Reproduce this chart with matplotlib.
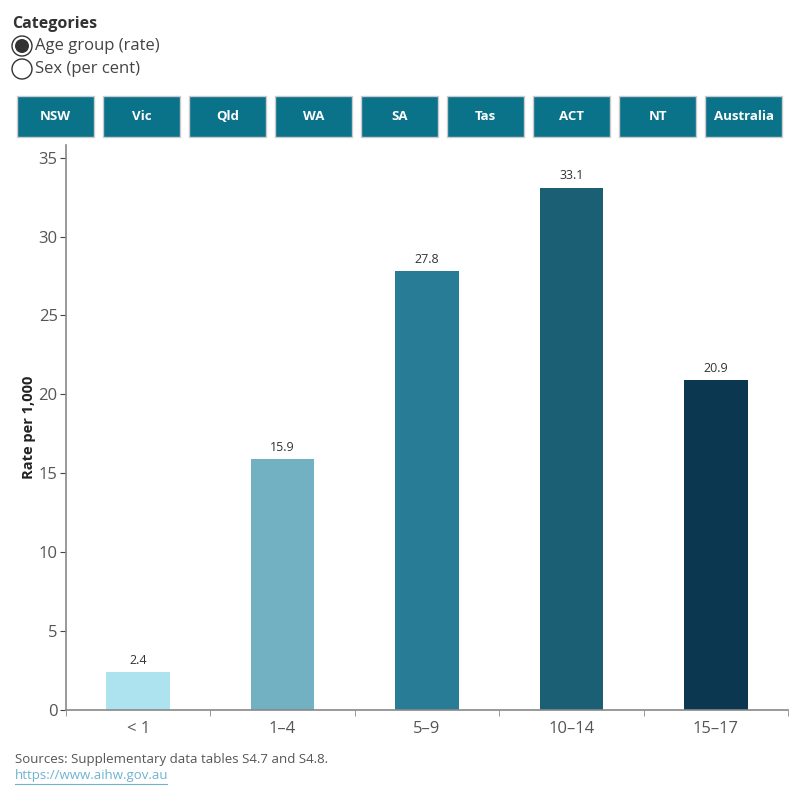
import matplotlib.pyplot as plt
from matplotlib.patches import Rectangle, Circle

plt.rcParams['font.family'] = ['Open Sans', 'DejaVu Sans']

age_groups = ["< 1", "1\u20134", "5\u20139", "10\u201314", "15\u201317"]
rates = [2.4, 15.9, 27.8, 33.1, 20.9]
bar_colors = ["#ade3ee", "#71b1c2", "#297c95", "#1b5f75", "#0b3750"]
states = ["NSW", "Vic", "Qld", "WA", "SA", "Tas", "ACT", "NT", "Australia"]
options = ["Age group (rate)", "Sex (per cent)"]

fig = plt.figure(figsize=(8, 8), dpi=100)

# chart area
ax = fig.add_axes([0.0825, 0.1125, 0.9025, 0.70625])
x = list(range(len(age_groups)))
ax.bar(x, rates, width=0.44, color=bar_colors)
for xi, v in zip(x, rates):
    ax.text(xi, v + 0.35, f"{v}", ha="center", va="bottom", fontsize=9, color="#333333")

ax.set_xlim(-0.5, len(age_groups) - 0.5)
ax.set_ylim(0, 35.8)
ax.set_yticks([0, 5, 10, 15, 20, 25, 30, 35])
ax.set_xticks(x)
ax.set_xticklabels(age_groups)
ax.set_xticks([i - 0.5 for i in range(len(age_groups) + 1)], minor=True)
ax.tick_params(axis="x", which="major", length=0, labelsize=12, labelcolor="#555555", pad=8)
ax.tick_params(axis="x", which="minor", length=4, color="#888888", direction="out")
ax.tick_params(axis="y", length=4, color="#444444", labelsize=12, labelcolor="#555555", pad=2)
for s in ["top", "right"]:
    ax.spines[s].set_visible(False)
for s in ["left", "bottom"]:
    ax.spines[s].set_color("#888888")
    ax.spines[s].set_linewidth(1.2)
ax.set_ylabel("Rate per 1,000", fontsize=10.5, fontweight="bold", color="#222222", labelpad=2)

# category selector
fig.text(12 / 800, 1 - 24 / 800, "Categories", fontsize=11.5, fontweight="bold",
         color="#333333", va="center", ha="left")
for i, opt in enumerate(options):
    cy = 1 - (46 + 23 * i) / 800
    fig.patches.append(Circle((22 / 800, cy), 10 / 800, transform=fig.transFigure,
                              facecolor="white", edgecolor="#333333", lw=1))
    if i == 0:
        fig.patches.append(Circle((22 / 800, cy), 7 / 800, transform=fig.transFigure,
                                  facecolor="#333333", edgecolor="none"))
    fig.text(35 / 800, cy, opt, fontsize=12, color="#444444", va="center", ha="left")

# state buttons
for i, st in enumerate(states):
    x0 = (17 + 86 * i) / 800
    fig.patches.append(Rectangle((x0, 1 - 137 / 800), 77 / 800, 41 / 800,
                                 transform=fig.transFigure, facecolor="#0a7289",
                                 edgecolor="#cccccc", lw=1))
    fig.text(x0 + 38.5 / 800, 1 - 116 / 800, st, fontsize=9.5, fontweight="bold",
             color="white", ha="center", va="center")

fig.text(15 / 800, 1 - 759 / 800, "Sources: Supplementary data tables S4.7 and S4.8.",
         fontsize=9.5, color="#555555", va="center", ha="left")
fig.text(15 / 800, 1 - 776 / 800, "https://www.aihw.gov.au",
         fontsize=9.5, color="#6fb3d0", va="center", ha="left")
fig.add_artist(plt.Line2D([15 / 800, 167 / 800], [1 - 784 / 800, 1 - 784 / 800],
                          color="#6fb3d0", lw=0.8, transform=fig.transFigure))

fig.savefig("out.png", dpi=100)
